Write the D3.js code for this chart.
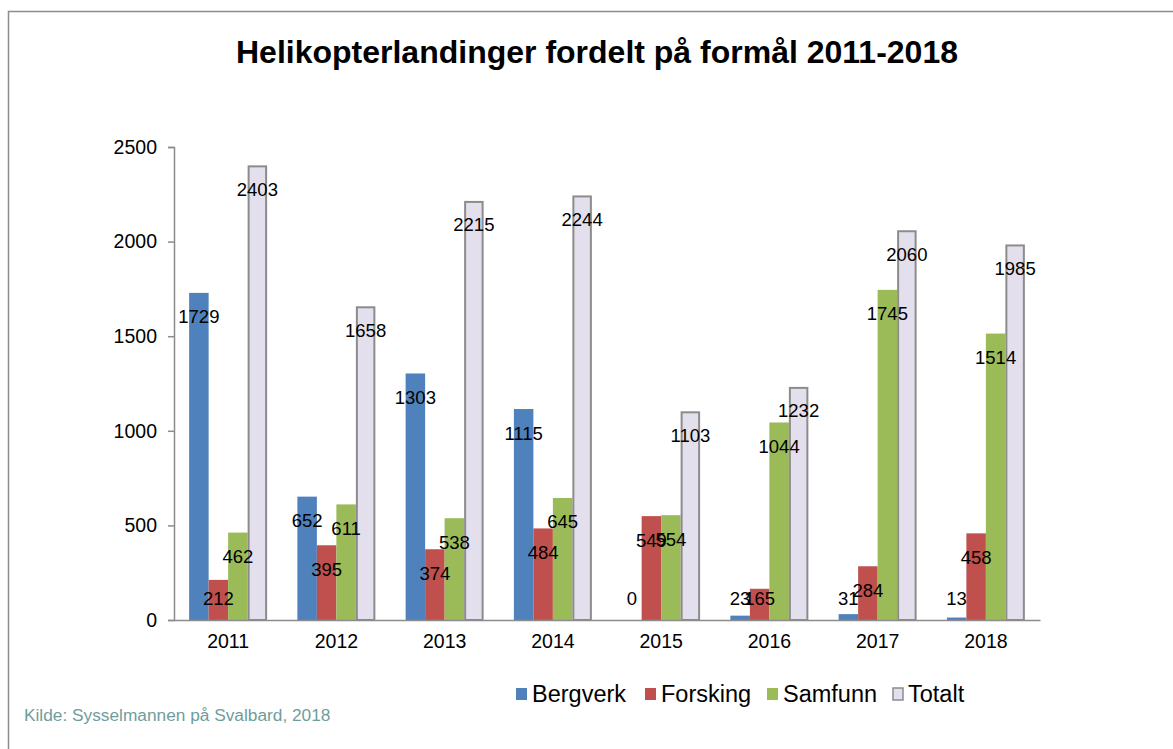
<!DOCTYPE html>
<html><head><meta charset="utf-8">
<script src="https://cdn.jsdelivr.net/npm/d3@7"></script>
<style>body{margin:0;background:#fff;}svg{display:block;font-family:"Liberation Sans",Arial,sans-serif;}</style>
</head><body>
<svg id="c" width="1173" height="749"></svg>
<script>
const years = ["2011","2012","2013","2014","2015","2016","2017","2018"];
const seriesNames = ["Bergverk","Forsking","Samfunn","Totalt"];
const bergverk = [1729,652,1303,1115,0,23,31,13];
const forsking = [212,395,374,484,549,165,284,458];
const samfunn = [462,611,538,645,554,1044,1745,1514];
const totalt = [2403,1658,2215,2244,1103,1232,2060,1985];
const yTicks = [0,500,1000,1500,2000,2500];
const colors = ["#4f81bd","#c0504d","#9bbb59","#e4dfec"];
const seriesValues = [bergverk, forsking, samfunn, totalt];

const svg = d3.select("#c");
// frame
svg.append("path").attr("d","M8.5,749 L8.5,11.5 L1173,11.5").attr("fill","none").attr("stroke","#8c8c8c").attr("stroke-width",1.5);

svg.append("text").attr("x",597).attr("y",63).attr("text-anchor","middle")
  .attr("font-size",32).attr("font-weight","bold").text("Helikopterlandinger fordelt på formål 2011-2018");

const x0 = d3.scaleBand().domain(years).range([174,1040]).paddingInner(0).paddingOuter(0);
const x1 = d3.scaleBand().domain(seriesNames).range([0,x0.bandwidth()]).paddingInner(0).paddingOuter(0.776);
const y = d3.scaleLinear().domain([0,2500]).range([620,147]);

// y axis
const ya = svg.append("g").attr("transform","translate(174,0)")
  .call(d3.axisLeft(y).tickValues(yTicks).tickSize(6).tickPadding(11).tickFormat(d3.format("d")));
ya.select(".domain").attr("stroke","#8c8c8c").attr("stroke-width",1.5);
ya.selectAll(".tick line").attr("stroke","#8c8c8c").attr("stroke-width",1.5);
ya.selectAll("text").attr("font-size",19.5).attr("fill","#000").attr("font-family","Liberation Sans, Arial, sans-serif");

const groups = svg.append("g");
years.forEach((yr,i)=>{
  seriesNames.forEach((s,j)=>{
    const v = seriesValues[j][i];
    const bx = x0(yr)+x1(s);
    const r = groups.append("rect").attr("x",bx).attr("width",x1.bandwidth())
      .attr("y",y(v)).attr("height",y(0)-y(v)).attr("fill",colors[j]);
    if(j===3) r.attr("stroke","#8c8c8c").attr("stroke-width",2).attr("x",bx+1).attr("width",x1.bandwidth()-2).attr("y",y(v)+1).attr("height",y(0)-y(v)-1);
  });
});

// x axis
const xa = svg.append("g").attr("transform","translate(0,620)")
  .call(d3.axisBottom(x0).tickSize(0).tickPadding(14));
xa.select(".domain").attr("stroke","#8c8c8c").attr("stroke-width",1.5);
xa.selectAll("text").attr("font-size",19.5).attr("fill","#000").attr("font-family","Liberation Sans, Arial, sans-serif");

// labels
years.forEach((yr,i)=>{
  seriesNames.forEach((s,j)=>{
    const v = seriesValues[j][i];
    const cx = x0(yr)+x1(s)+x1.bandwidth()/2;
    const cy = Math.min(y(v)+24, y(0)-21);
    svg.append("text").attr("x",cx).attr("y",cy).attr("dy","0.35em").attr("text-anchor","middle")
      .attr("font-size",18.5).attr("fill","#000").text(v);
  });
});

// legend
const legX = [516,645,767,892];
const lg = svg.append("g");
seriesNames.forEach((s,j)=>{
  const g = lg.append("g").attr("transform",`translate(${legX[j]},694)`);
  const r = g.append("rect").attr("x",0).attr("y",-6).attr("width",11).attr("height",12).attr("fill",colors[j]);
  if(j===3) r.attr("stroke","#8c8c8c").attr("stroke-width",1.5).attr("x",1).attr("width",10);
  g.append("text").attr("x",16).attr("y",0).attr("dy","0.35em").attr("font-size",23.5).attr("fill","#000").text(s);
});

svg.append("text").attr("x",24).attr("y",721).attr("font-size",17.3).attr("fill","#6f9d9d").text("Kilde: Sysselmannen på Svalbard, 2018");
</script>
</body></html>
